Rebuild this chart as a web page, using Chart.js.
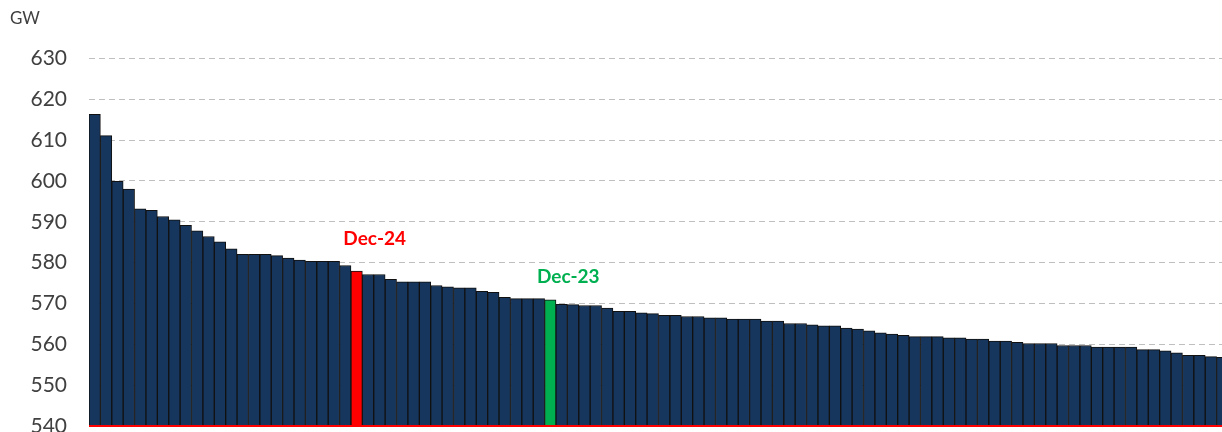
<!DOCTYPE html>
<html lang="en">
    <head>
        <meta charset="UTF-8" />
        <title>Ranked monthly peak</title>
        <script src="https://cdn.jsdelivr.net/npm/chart.js"></script>
        <style>
            html, body {
                margin: 0;
                padding: 0;
                background: #ffffff;
                overflow: hidden;
            }
            .chart-container {
                position: relative;
                width: 1228px;
                height: 432px;
            }
        </style>
    </head>
    <body>
        <div class="chart-container">
            <canvas id="gwChart"></canvas>
        </div>

        <script>
            // values, ranked highest to lowest
            const values = [
                616.3, 611.1, 599.9, 598.0, 593.2, 592.8, 591.3, 590.5, 589.1, 587.8,
                586.4, 585.1, 583.4, 582.0, 582.0, 582.0, 581.7, 581.1, 580.6, 580.3,
                580.3, 580.3, 579.3, 577.9, 577.1, 577.1, 575.9, 575.3, 575.3, 575.3,
                574.4, 574.1, 573.8, 573.8, 573.0, 572.7, 571.5, 571.2, 571.2, 571.2,
                570.9, 569.8, 569.7, 569.5, 569.5, 568.9, 568.1, 568.1, 567.7, 567.5,
                567.1, 567.1, 566.8, 566.8, 566.5, 566.5, 566.2, 566.2, 566.2, 565.7,
                565.7, 565.1, 565.1, 564.8, 564.5, 564.5, 564.0, 563.7, 563.3, 562.8,
                562.5, 562.2, 561.9, 561.9, 561.9, 561.6, 561.6, 561.3, 561.3, 560.8,
                560.8, 560.5, 560.2, 560.2, 560.2, 559.7, 559.7, 559.7, 559.3, 559.3,
                559.3, 559.3, 558.7, 558.7, 558.4, 557.9, 557.3, 557.3, 557.0, 556.8,
            ];
            const ranks = values.map((v, i) => String(i + 1));
            const highlightIndex = [23, 40];
            const highlightLabels = ["Dec-24", "Dec-23"];
            const yTicks = [540, 550, 560, 570, 580, 590, 600, 610, 620, 630];

            const navy = "#17365d";
            const highlightColors = ["#ff0000", "#00b050"];

            const barColors = values.map((v, i) => {
                const h = highlightIndex.indexOf(i);
                return h >= 0 ? highlightColors[h] : navy;
            });

            const fontFamily = "Lato, 'Open Sans', sans-serif";

            // writes Dec-24 / Dec-23 over their bars, red base line
            const barLabels = {
                id: "barLabels",
                afterDatasetsDraw(chart) {
                    const ctx = chart.ctx;
                    const meta = chart.getDatasetMeta(0);
                    const area = chart.chartArea;
                    const base = chart.scales.y.getPixelForValue(yTicks[0]);
                    ctx.save();
                    ctx.strokeStyle = "#ff0000";
                    ctx.lineWidth = 2;
                    ctx.beginPath();
                    ctx.moveTo(area.left, base);
                    ctx.lineTo(area.right, base);
                    ctx.stroke();

                    const offsets = [32, 23];
                    ctx.font = "bold 19px " + fontFamily;
                    ctx.textAlign = "center";
                    ctx.textBaseline = "middle";
                    highlightIndex.forEach((idx, k) => {
                        const bar = meta.data[idx];
                        ctx.fillStyle = highlightColors[k];
                        ctx.fillText(highlightLabels[k], bar.x + 18, bar.y - offsets[k]);
                    });
                    ctx.restore();
                },
            };

            const ctx = document.getElementById("gwChart").getContext("2d");
            new Chart(ctx, {
                type: "bar",
                data: {
                    labels: ranks,
                    datasets: [
                        {
                            data: values,
                            backgroundColor: barColors,
                            borderColor: "#111111",
                            borderWidth: 1,
                            borderSkipped: "bottom",
                            barPercentage: 1,
                            categoryPercentage: 1,
                        },
                    ],
                },
                options: {
                    responsive: true,
                    maintainAspectRatio: false,
                    animation: false,
                    layout: { padding: { top: 0, right: 0, bottom: 0, left: 10 } },
                    plugins: {
                        legend: { display: false },
                        tooltip: { enabled: false },
                        title: {
                            display: true,
                            text: "GW",
                            align: "start",
                            color: "#404040",
                            font: { family: fontFamily, size: 17, weight: "normal" },
                            padding: { top: 8, bottom: 30 },
                        },
                    },
                    scales: {
                        x: {
                            display: false,
                        },
                        y: {
                            min: yTicks[0],
                            max: yTicks[yTicks.length - 1],
                            afterBuildTicks(scale) {
                                scale.ticks = yTicks.map((v) => ({ value: v }));
                            },
                            afterFit(scale) {
                                scale.width = 79;
                                scale.paddingTop = 0;
                                scale.paddingBottom = 6;
                            },
                            ticks: {
                                color: "#404040",
                                padding: 22,
                                font: { family: fontFamily, size: 21 },
                            },
                            grid: {
                                color: "#bfbfbf",
                                drawTicks: false,
                                lineWidth: 1,
                            },
                            border: { display: false, dash: [6, 4] },
                        },
                    },
                },
                plugins: [barLabels],
            });
        </script>
    </body>
</html>
